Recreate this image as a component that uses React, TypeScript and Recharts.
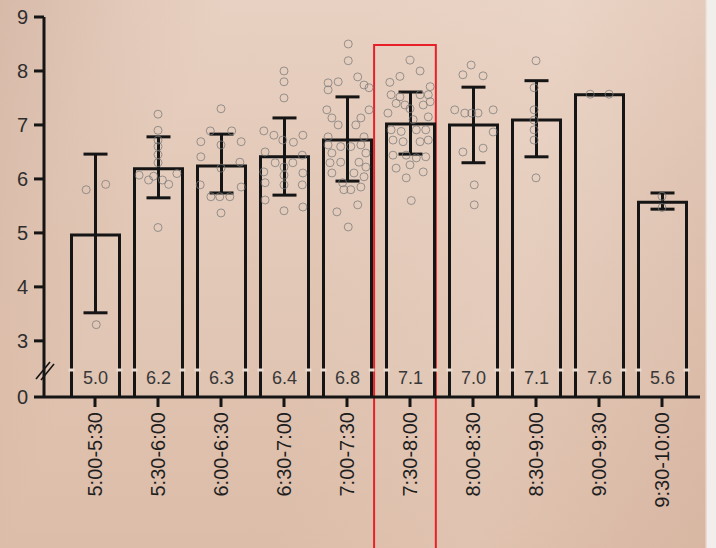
import {
  Bar,
  ComposedChart,
  ErrorBar,
  LabelList,
  ReferenceArea,
  Scatter,
  XAxis,
  YAxis,
} from 'recharts';

// Categories (half-hour slots) and bar statistics
const SLOTS = [
  '5:00-5:30', '5:30-6:00', '6:00-6:30', '6:30-7:00', '7:00-7:30',
  '7:30-8:00', '8:00-8:30', '8:30-9:00', '9:00-9:30', '9:30-10:00',
];
const MEANS = [4.96, 6.19, 6.24, 6.41, 6.72, 7.02, 7.0, 7.09, 7.56, 5.57];
const SD_LOW = [1.44, 0.54, 0.5, 0.71, 0.76, 0.56, 0.7, 0.68, 0, 0.13];
const SD_HIGH = [1.5, 0.59, 0.59, 0.72, 0.8, 0.59, 0.7, 0.73, 0, 0.17];
const VALUE_LABELS = ['5.0', '6.2', '6.3', '6.4', '6.8', '7.1', '7.0', '7.1', '7.6', '5.6'];

// Individual observations: [slot position with jitter, value]
const DOTS_0 = [[-0.14, 5.8], [0.17, 5.9], [0.02, 3.3]];
const DOTS_1 = [
  [1.0, 7.2], [1.0, 6.9], [1.0, 6.72], [1.0, 6.6], [1.0, 6.45], [1.0, 6.3], [0.7, 6.07],
  [0.85, 5.98], [0.93, 6.05], [1.07, 5.98], [1.17, 5.9], [1.3, 6.1], [1.0, 5.1],
];
const DOTS_2 = [
  [2.0, 7.3], [1.83, 6.89], [2.17, 6.89], [1.68, 6.69], [2.32, 6.69], [2.0, 6.63], [1.68, 6.41],
  [2.3, 6.31], [2.0, 6.2], [1.67, 5.89], [2.32, 5.85], [1.84, 5.67], [1.98, 5.67], [2.14, 5.67],
  [2.0, 5.37],
];
const DOTS_3 = [
  [3.0, 8.0], [3.0, 7.8], [3.0, 7.5], [2.68, 6.89], [2.84, 6.81], [2.98, 6.72], [3.15, 6.68],
  [3.3, 6.81], [2.7, 6.5], [3.29, 6.44], [2.86, 6.3], [3.14, 6.3], [3.0, 6.22], [3.0, 6.07],
  [2.68, 6.13], [3.3, 6.11], [3.0, 5.89], [2.7, 5.93], [3.29, 5.89], [2.7, 5.61], [3.3, 5.48],
  [3.0, 5.41],
];
const DOTS_4 = [
  [4.02, 8.5], [4.02, 8.19], [3.7, 7.78], [3.86, 7.8], [4.17, 7.89], [4.27, 7.74], [3.7, 7.65],
  [4.35, 7.69], [3.68, 7.28], [3.76, 7.13], [4.22, 7.13], [4.35, 7.28], [3.86, 7.0], [4.14, 7.0],
  [3.7, 6.78], [4.27, 6.78], [3.7, 6.63], [3.9, 6.6], [4.06, 6.6], [4.22, 6.63], [3.76, 6.48],
  [4.3, 6.48], [3.73, 6.3], [3.9, 6.31], [4.19, 6.31], [4.3, 6.22], [3.76, 6.11], [4.11, 6.11],
  [4.27, 6.04], [3.93, 5.93], [3.95, 5.8], [4.06, 5.8], [4.22, 5.85], [4.17, 5.52], [3.84, 5.39],
  [4.02, 5.11],
];
const DOTS_5 = [
  [5.0, 8.2], [5.16, 8.0], [4.84, 7.9], [4.68, 7.79], [5.32, 7.71], [4.7, 7.56], [4.84, 7.52],
  [5.16, 7.56], [5.29, 7.56], [4.78, 7.4], [4.92, 7.37], [5.21, 7.37], [5.32, 7.43], [5.0, 7.3],
  [5.05, 7.1], [4.65, 7.22], [5.29, 7.15], [4.7, 6.91], [4.86, 6.88], [5.1, 6.91], [5.25, 6.91],
  [4.73, 6.72], [4.89, 6.69], [5.16, 6.69], [5.29, 6.72], [4.73, 6.44], [4.94, 6.44], [5.1, 6.39],
  [5.25, 6.41], [4.78, 6.2], [5.0, 6.26], [5.21, 6.13], [4.94, 6.02], [5.02, 5.6],
];
const DOTS_6 = [
  [5.97, 8.11], [5.84, 7.93], [6.16, 7.91], [5.71, 7.28], [5.87, 7.22], [5.98, 7.22], [6.08, 7.22],
  [6.32, 7.28], [6.32, 6.87], [5.84, 6.5], [6.16, 6.57], [6.02, 5.89], [6.02, 5.52],
];
const DOTS_7 = [
  [7.0, 8.19], [6.97, 7.69], [6.97, 7.28], [6.97, 7.09], [6.97, 6.91], [6.97, 6.72], [7.0, 6.02],
];
const DOTS_8 = [[7.86, 7.57], [8.16, 7.57]];
const DOTS_9 = [[9.0, 5.68], [9.0, 5.47]];

// Axis values
const Y_FLOOR = 1.96; // drawn as "0" below the axis break
const Y_BREAK = 2.46;
const Y_TICKS = [Y_FLOOR, Y_BREAK, 3, 4, 5, 6, 7, 8, 9];
const HIGHLIGHT_X = [4.43, 5.41];
const HIGHLIGHT_Y = [-0.9, 8.48];

const FONT = '"Liberation Sans", Arial, sans-serif';
const INK = '#151515';

const barData = SLOTS.map((name, i) => ({
  name,
  mean: MEANS[i],
  sd: [SD_LOW[i], SD_HIGH[i]],
  label: VALUE_LABELS[i],
}));

const dotData = [
  DOTS_0, DOTS_1, DOTS_2, DOTS_3, DOTS_4, DOTS_5, DOTS_6, DOTS_7, DOTS_8, DOTS_9,
].flat().map(([pos, value]) => ({ pos, value }));

function OutlinedBar(props: any) {
  const { x, y, width, height, payload } = props;
  if (!height) return null;
  const bottom = y + height;
  const perUnit = height / (payload.mean - Y_FLOOR);
  const breakY = bottom - (Y_BREAK - Y_FLOOR) * perUnit;
  return (
    <g>
      <rect x={x} y={y} width={width} height={height} fill="rgba(255,255,255,0.06)" />
      <path
        d={`M${x},${bottom} V${y} H${x + width} V${bottom}`}
        fill="none"
        stroke={INK}
        strokeWidth={3}
      />
      <rect x={x - 3} y={breakY - 1.5} width={6} height={3} fill="#eadbd0" />
      <rect x={x + width - 3} y={breakY - 1.5} width={6} height={3} fill="#eadbd0" />
    </g>
  );
}

function renderValueLabel(props: any) {
  const { x, y, width, height, value } = props;
  return (
    <text
      x={x + width / 2}
      y={y + height - 19}
      textAnchor="middle"
      dominantBaseline="central"
      fontSize={18}
      fontFamily={FONT}
      fill="#383838"
    >
      {value}
    </text>
  );
}

const Y_TICK_SIZE = 10;
const Y_TICK_MARGIN = 6;

function YTick(props: any) {
  const { x, y, payload } = props;
  const axisX = x + Y_TICK_SIZE + Y_TICK_MARGIN;
  if (payload.value === Y_BREAK) {
    return (
      <g stroke={INK} strokeWidth={1.6}>
        <line x1={axisX - 8} y1={y + 9} x2={axisX + 6} y2={y - 8} />
        <line x1={axisX - 3} y1={y + 10} x2={axisX + 10} y2={y - 6} />
      </g>
    );
  }
  const text = payload.value === Y_FLOOR ? '0' : String(payload.value);
  return (
    <g>
      <line x1={axisX - Y_TICK_SIZE} y1={y} x2={axisX} y2={y} stroke={INK} strokeWidth={3} />
      <text
        x={x}
        y={y}
        textAnchor="end"
        dominantBaseline="central"
        fontSize={20}
        fontFamily={FONT}
        fill="#2e2e2e"
      >
        {text}
      </text>
    </g>
  );
}

function XTick(props: any) {
  const { x, y, payload } = props;
  return (
    <text
      x={x}
      y={y}
      transform={`rotate(-90 ${x} ${y})`}
      textAnchor="end"
      dy="0.35em"
      fontSize={20}
      fontFamily={FONT}
      fill="#1e1e1e"
    >
      {payload.value}
    </text>
  );
}

function Dot(props: any) {
  const { cx, cy } = props;
  return <circle cx={cx} cy={cy} r={4} fill="none" stroke="#7a7a7a" strokeOpacity={0.75} strokeWidth={1} />;
}

export default function App() {
  return (
    <div
      style={{
        position: 'fixed',
        left: 0,
        top: 0,
        width: 716,
        height: 548,
        background: [
          'linear-gradient(90deg, rgba(0,0,0,0) 98.4%, #f2eeeb 98.8%)',
          'linear-gradient(112deg, rgba(196,158,138,0.45) 0%, rgba(196,158,138,0.15) 14%, rgba(196,158,138,0) 24%)',
          'linear-gradient(100deg, rgba(255,255,255,0) 45%, rgba(245,228,216,0.15) 70%, rgba(205,165,145,0.3) 100%)',
          'linear-gradient(180deg, #e8d1c2 0%, #e1c5b3 50%, #dcbda9 100%)',
        ].join(', '),
      }}
    >
      <ComposedChart
        width={716}
        height={548}
        data={barData}
        margin={{ top: 17, right: 16, bottom: 0, left: 0 }}
        barSize={48}
      >
        <XAxis
          dataKey="name"
          type="category"
          padding={{ left: 19.5, right: 6.5 }}
          axisLine={{ stroke: INK, strokeWidth: 3 }}
          tickLine={{ stroke: INK, strokeWidth: 3 }}
          tickSize={10}
          tickMargin={5}
          tick={<XTick />}
          interval={0}
          height={151}
        />
        <XAxis
          xAxisId="num"
          dataKey="pos"
          type="number"
          domain={[-0.5, 9.5]}
          padding={{ left: 19.5, right: 6.5 }}
          allowDataOverflow
          hide
        />
        <YAxis
          type="number"
          domain={[Y_FLOOR, 9]}
          ticks={Y_TICKS}
          allowDataOverflow
          width={44}
          axisLine={{ stroke: INK, strokeWidth: 3 }}
          tickLine={false}
          tickSize={Y_TICK_SIZE}
          tickMargin={Y_TICK_MARGIN}
          tick={<YTick />}
          interval={0}
        />
        <Bar dataKey="mean" shape={<OutlinedBar />} isAnimationActive={false}>
          <ErrorBar dataKey="sd" direction="y" width={12} stroke={INK} strokeWidth={3} />
          <LabelList dataKey="label" content={renderValueLabel} />
        </Bar>
        <Scatter
          data={dotData}
          dataKey="value"
          xAxisId="num"
          shape={<Dot />}
          isAnimationActive={false}
        />
        <ReferenceArea
          xAxisId="num"
          x1={HIGHLIGHT_X[0]}
          x2={HIGHLIGHT_X[1]}
          y1={HIGHLIGHT_Y[0]}
          y2={HIGHLIGHT_Y[1]}
          ifOverflow="visible"
          fill="none"
          stroke="#e8202a"
          strokeWidth={2}
        />
      </ComposedChart>
    </div>
  );
}
